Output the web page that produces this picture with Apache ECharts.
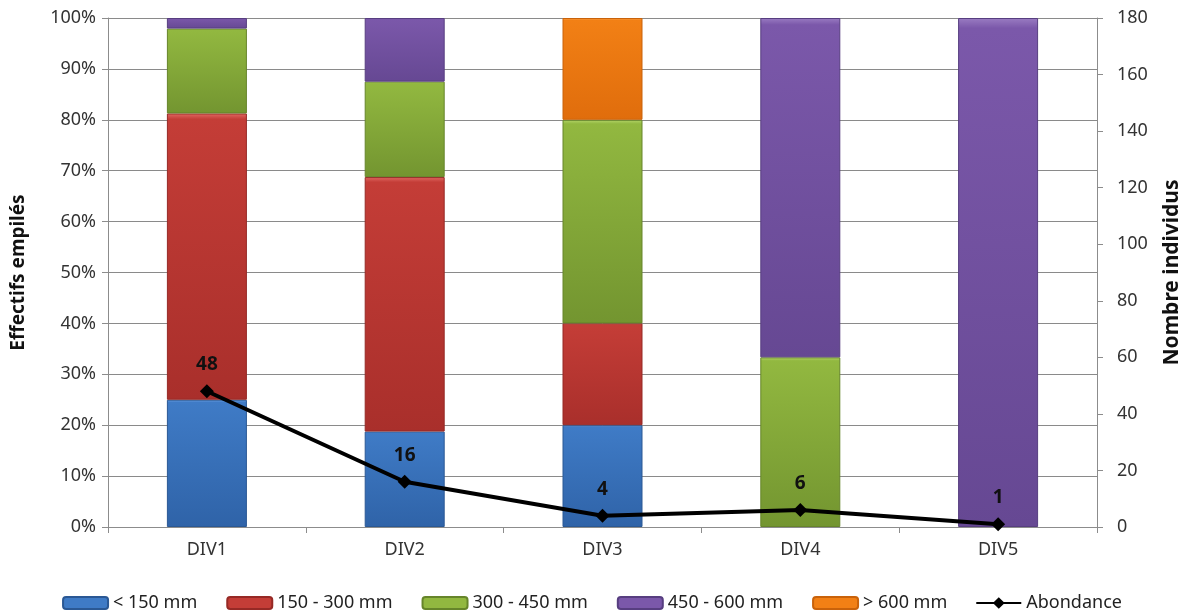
<!DOCTYPE html>
<html>
<head>
<meta charset="utf-8">
<script src="https://cdn.jsdelivr.net/npm/echarts@6/dist/echarts.min.js"></script>
<style>
  html, body { margin: 0; padding: 0; background: #fff; }
  #chart { width: 1184px; height: 612px; }
</style>
</head>
<body>
<div id="chart"></div>
<script>
// Divisions along the x axis
const categories = ['DIV1', 'DIV2', 'DIV3', 'DIV4', 'DIV5'];

// Share of individuals per size class (percent of each division)
const lt150   = [25.0, 18.75, 20, 0, 0];
const s150300 = [56.25, 50.0, 20, 0, 0];
const s300450 = [16.67, 18.75, 40, 33.33, 0];
const s450600 = [2.08, 12.5, 0, 66.67, 100];
const gt600   = [0, 0, 20, 0, 0];

// Total individuals per division
const abondance = [48, 16, 4, 6, 1];

const seriesNames = ['< 150 mm', '150 - 300 mm', '300 - 450 mm', '450 - 600 mm', '> 600 mm'];
const seriesData = [lt150, s150300, s300450, s450600, gt600];
// [highlight, top, bottom, edge]
const palette = [
  ['#6fa3e6', '#3f7bc6', '#2f63a8', '#2a5894'],
  ['#e06a64', '#c43d37', '#a92f2b', '#962925'],
  ['#b5d66a', '#92b840', '#739530', '#66852a'],
  ['#9a7cc2', '#7b58aa', '#664893', '#573e80'],
  ['#ffad5a', '#f28015', '#e06d0c', '#c9620a']
];

const leftTicks = [0, 10, 20, 30, 40, 50, 60, 70, 80, 90, 100];
const rightTicks = [0, 20, 40, 60, 80, 100, 120, 140, 160, 180];

const font = 'Noto Sans';

function barStyle(c) {
  return {
    color: {
      type: 'linear', x: 0, y: 0, x2: 0, y2: 1,
      colorStops: [
        { offset: 0, color: c[0] },
        { offset: 0.02, color: c[1] },
        { offset: 1, color: c[2] }
      ]
    },
    borderColor: c[3],
    borderWidth: 1
  };
}

// empty segments are left out so they draw no sliver
const barSeries = seriesNames.map((name, i) => ({
  name: name,
  type: 'bar',
  stack: 'size',
  yAxisIndex: 0,
  barWidth: 80,
  data: seriesData[i].map(v => (v === 0 ? null : v)),
  itemStyle: barStyle(palette[i]),
  emphasis: { disabled: true }
}));

const chart = echarts.init(document.getElementById('chart'));
chart.setOption({
  animation: false,
  textStyle: { fontFamily: font },
  grid: { left: 108, right: 87, top: 18, bottom: 85, outerBoundsMode: 'none', containLabel: false },
  legend: {
    top: 589,
    left: 'center',
    itemWidth: 45,
    itemHeight: 12,
    itemGap: 29,
    textStyle: { fontSize: 18, color: '#222', fontFamily: font },
    data: seriesNames.map((n, i) => ({ name: n, itemStyle: { color: palette[i][1], borderColor: palette[i][3] } }))
      .concat([{ name: 'Abondance', icon: 'path://M0,5 L18,5 L23,0 L28,5 L46,5 L46,7 L28,7 L23,12 L18,7 L0,7 Z' }])
  },
  xAxis: {
    type: 'category',
    data: categories,
    axisLine: { lineStyle: { color: '#8c8c8c' } },
    axisTick: { show: true, alignWithLabel: false, length: 6, lineStyle: { color: '#8c8c8c' } },
    axisLabel: { fontSize: 18, color: '#333', margin: 14 }
  },
  yAxis: [
    {
      type: 'value',
      min: 0, max: 100, interval: 10,
      name: 'Effectifs empilés',
      nameLocation: 'middle',
      nameRotate: 90,
      nameGap: 80,
      nameTextStyle: { fontSize: 19, fontWeight: 'bold', color: '#111' },
      axisLine: { show: true, lineStyle: { color: '#8c8c8c' } },
      axisTick: { show: true, length: 6, lineStyle: { color: '#8c8c8c' } },
      axisLabel: { fontSize: 18, color: '#333', margin: 12, formatter: v => leftTicks.includes(v) ? v + '%' : '' },
      splitLine: { lineStyle: { color: '#8a8a8a', width: 1 } }
    },
    {
      type: 'value',
      min: 0, max: 180, interval: 20,
      position: 'right',
      name: 'Nombre individus',
      nameLocation: 'middle',
      nameRotate: 90,
      nameGap: 65,
      nameTextStyle: { fontSize: 21, fontWeight: 'bold', color: '#111' },
      axisLine: { show: true, lineStyle: { color: '#8c8c8c' } },
      axisTick: { show: true, length: 6, lineStyle: { color: '#8c8c8c' } },
      axisLabel: { fontSize: 18, color: '#333', margin: 20, formatter: v => rightTicks.includes(v) ? String(v) : '' },
      splitLine: { show: false }
    }
  ],
  series: barSeries.concat([{
    name: 'Abondance',
    type: 'line',
    yAxisIndex: 1,
    data: abondance,
    symbol: 'diamond',
    symbolSize: 14,
    itemStyle: { color: '#000' },
    lineStyle: { color: '#000', width: 4 },
    label: {
      show: true,
      position: 'top',
      distance: 10,
      fontSize: 19,
      fontWeight: 'bold',
      color: '#111'
    },
    z: 10
  }])
});
</script>
</body>
</html>
